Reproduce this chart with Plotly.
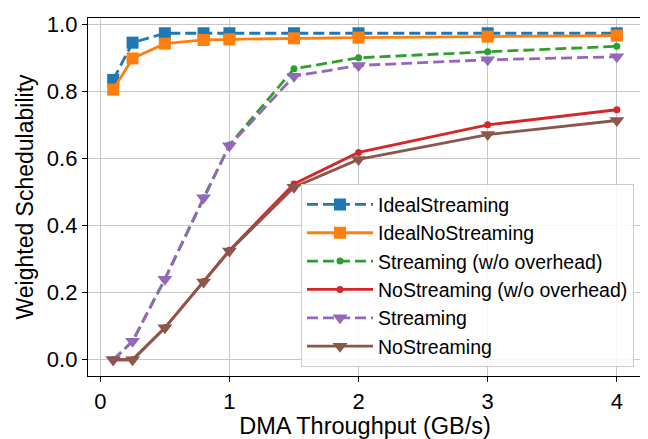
import plotly.graph_objects as go

x_vals = [0.1, 0.25, 0.5, 0.8, 1, 1.5, 2, 3, 4]

ideal_streaming = [0.834, 0.945, 0.973, 0.973, 0.973, 0.973, 0.973, 0.973, 0.973]
ideal_nostreaming = [0.805, 0.898, 0.942, 0.953, 0.955, 0.958, 0.960, 0.963, 0.966]
streaming_wo = [0.0, 0.055, 0.24, 0.483, 0.64, 0.867, 0.900, 0.918, 0.934]
nostreaming_wo = [0.0, 0.0, 0.095, 0.233, 0.326, 0.524, 0.618, 0.700, 0.745]
streaming = [0.0, 0.055, 0.24, 0.483, 0.638, 0.845, 0.877, 0.894, 0.903]
nostreaming = [0.0, 0.0, 0.095, 0.232, 0.324, 0.514, 0.597, 0.671, 0.713]

series = [
    ("IdealStreaming", ideal_streaming, "#1f77b4", "11px,5px", "square", 12),
    ("IdealNoStreaming", ideal_nostreaming, "#ff7f0e", "solid", "square", 12),
    ("Streaming (w/o overhead)", streaming_wo, "#2ca02c", "11px,5px", "circle", 7),
    ("NoStreaming (w/o overhead)", nostreaming_wo, "#d62728", "solid", "circle", 7),
    ("Streaming", streaming, "#9467bd", "11px,5px", "triangle-down", 13),
    ("NoStreaming", nostreaming, "#8c564b", "solid", "triangle-down", 13),
]

fig = go.Figure()
for name, ys, color, dash, sym, size in series:
    fig.add_trace(go.Scatter(
        x=x_vals, y=ys, name=name, mode="lines+markers",
        line=dict(color=color, width=2.8, dash=dash),
        marker=dict(symbol=sym, size=size, color=color, line=dict(width=0)),
    ))

font_family = "Liberation Sans, Arial, sans-serif"
fig.update_layout(
    width=640, height=431,
    margin=dict(l=80, r=6, t=4, b=60),
    plot_bgcolor="white", paper_bgcolor="white",
    font=dict(family=font_family, size=22, color="black"),
    showlegend=True,
    legend=dict(
        x=0.9856, y=0.0245, xanchor="right", yanchor="bottom",
        bgcolor="rgba(255,255,255,0.85)", bordercolor="#cccccc", borderwidth=1,
        font=dict(size=19.5, family=font_family),
        tracegroupgap=0, itemwidth=66,
    ),
    xaxis=dict(
        range=[-0.095, 4.195], tickvals=[0, 1, 2, 3, 4], ticktext=["0", "1", "2", "3", "4"],
        showgrid=True, gridcolor="#c8c8c8", gridwidth=1.4, zeroline=False,
        showline=True, linecolor="black", linewidth=1.3, mirror=True,
        ticks="outside", ticklen=5, tickcolor="black",
        title=dict(text="DMA Throughput (GB/s)", font=dict(size=23.5), standoff=5),
        tickfont=dict(size=22), ticklabeloverflow="allow",
    ),
    yaxis=dict(
        range=[-0.0485, 1.0185], tickvals=[0, 0.2, 0.4, 0.6, 0.8, 1.0],
        ticktext=["0.0", "0.2", "0.4", "0.6", "0.8", "1.0"],
        showgrid=True, gridcolor="#c8c8c8", gridwidth=1.4, zeroline=False,
        showline=True, linecolor="black", linewidth=1.3, mirror=True,
        ticks="outside", ticklen=5, tickcolor="black",
        title=dict(text="Weighted Schedulability", font=dict(size=23), standoff=6),
        tickfont=dict(size=22), ticklabeloverflow="allow",
    ),
)

fig.write_html("out.html")
